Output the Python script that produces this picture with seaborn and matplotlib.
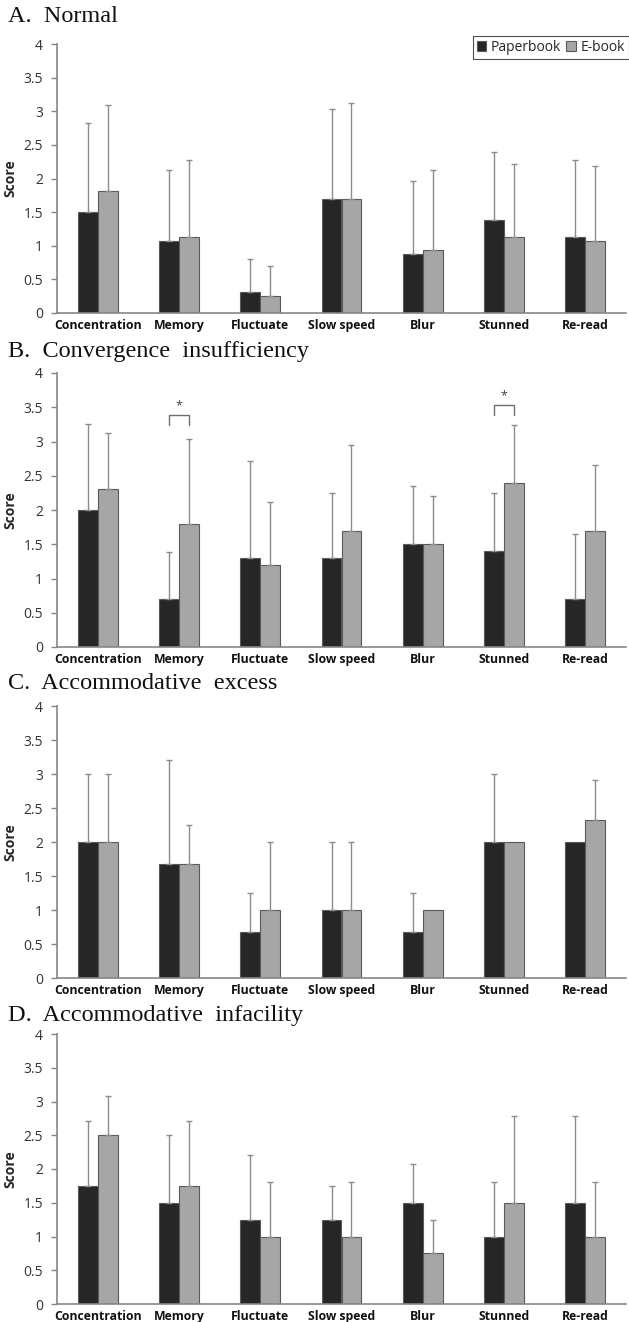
import numpy as np
import pandas as pd
import matplotlib
matplotlib.use("Agg")
import matplotlib.pyplot as plt
import seaborn as sns

# ==========================================
# DATA
# ==========================================
symptoms = ["Concentration", "Memory", "Fluctuate", "Slow speed", "Blur", "Stunned", "Re-read"]
groups = ["Paperbook", "E-book"]
panel_titles = ["A.  Normal", "B.  Convergence  insufficiency",
                "C.  Accommodative  excess", "D.  Accommodative  infacility"]

# mean scores
paper_mean = [
    [1.50, 1.07, 0.31, 1.69, 0.88, 1.38, 1.13],
    [2.00, 0.70, 1.30, 1.30, 1.50, 1.40, 0.70],
    [2.00, 1.67, 0.67, 1.00, 0.67, 2.00, 2.00],
    [1.75, 1.50, 1.25, 1.25, 1.50, 1.00, 1.50],
]
ebook_mean = [
    [1.81, 1.13, 0.25, 1.69, 0.94, 1.13, 1.07],
    [2.30, 1.80, 1.20, 1.70, 1.50, 2.40, 1.70],
    [2.00, 1.67, 1.00, 1.00, 1.00, 2.00, 2.33],
    [2.50, 1.75, 1.00, 1.00, 0.75, 1.50, 1.00],
]
# standard deviations (upper error bars)
paper_sd = [
    [1.32, 1.06, 0.49, 1.35, 1.08, 1.02, 1.14],
    [1.25, 0.68, 1.42, 0.95, 0.85, 0.85, 0.95],
    [1.00, 1.53, 0.58, 1.00, 0.58, 1.00, 0.00],
    [0.96, 1.00, 0.96, 0.50, 0.57, 0.81, 1.29],
]
ebook_sd = [
    [1.28, 1.14, 0.45, 1.44, 1.18, 1.08, 1.12],
    [0.82, 1.23, 0.92, 1.25, 0.71, 0.84, 0.95],
    [1.00, 0.58, 1.00, 1.00, 0.00, 0.00, 0.58],
    [0.58, 0.96, 0.81, 0.81, 0.50, 1.29, 0.81],
]
# significance marks in panel B: (symptom, bracket low, bracket high)
sig_marks = [("Memory", 3.24, 3.385), ("Stunned", 3.385, 3.537)]

# ==========================================
# STYLE
# ==========================================
sns.set_theme(style="white")
plt.rcParams["font.family"] = ["Open Sans", "DejaVu Sans"]

PAPER_COLOR = "#262626"
EBOOK_COLOR = "#a6a6a6"
EDGE_COLOR = "#5a5a5a"
AXIS_COLOR = "#868686"
ERR_COLOR = "#8c8c8c"

W, H = 629, 1322
fig = plt.figure(figsize=(W / 100, H / 100), dpi=100)

# axes boxes in pixels: (top y of value 4, y of value 0)
axes_px = [(44, 313), (373, 647), (706, 978), (1034, 1304)]
title_y = [17, 352, 683, 1016]
x0, x1 = 57, 626

for i in range(4):
    ytop, ybot = axes_px[i]
    ax = fig.add_axes([x0 / W, 1 - ybot / H, (x1 - x0) / W, (ybot - ytop) / H])

    df = pd.DataFrame({
        "Symptom": symptoms * 2,
        "Book": [groups[0]] * 7 + [groups[1]] * 7,
        "Score": paper_mean[i] + ebook_mean[i],
    })
    sns.barplot(data=df, x="Symptom", y="Score", hue="Book", order=symptoms,
                hue_order=groups, palette=[PAPER_COLOR, EBOOK_COLOR],
                width=0.49, gap=0, errorbar=None, edgecolor=EDGE_COLOR,
                linewidth=0.8, saturation=1, ax=ax, legend=(i == 0))

    # upper-only error bars
    centers = []
    for cont, means, sds in zip(ax.containers, [paper_mean[i], ebook_mean[i]],
                                [paper_sd[i], ebook_sd[i]]):
        xs = np.array([p.get_x() + p.get_width() / 2 for p in cont.patches])
        centers.append(xs)
        sd = np.array(sds)
        mask = sd > 0
        ax.errorbar(xs[mask], np.array(means)[mask],
                    yerr=[np.zeros(mask.sum()), sd[mask]], fmt="none",
                    ecolor=ERR_COLOR, elinewidth=1.0, capsize=2.2, capthick=1.0,
                    zorder=1)

    if i == 1:
        for name, lo, hi in sig_marks:
            k = symptoms.index(name)
            xa, xb = centers[0][k], centers[1][k]
            ax.plot([xa, xa, xb, xb], [lo, hi, hi, lo], color="#707070", lw=1.0,
                    clip_on=False)
            ax.text((xa + xb) / 2, hi + 0.04, "*", ha="center", va="bottom",
                    fontsize=9, color="#404040")

    ax.set_xlim(-0.5, 6.5)
    ax.set_ylim(0, 4)
    yt = np.arange(0, 4.01, 0.5)
    ax.set_yticks(yt)
    ax.set_yticklabels([f"{v:g}" for v in yt], fontsize=10, color="#333333")
    ax.set_xticks(range(7))
    ax.set_xticklabels(symptoms, fontsize=8.8, fontweight="bold", color="#111111")
    ax.tick_params(axis="x", length=0, pad=4)
    ax.tick_params(axis="y", length=4, width=1, color=AXIS_COLOR, pad=6, left=True)
    ax.set_xlabel("")
    ax.set_ylabel("Score", fontsize=10, fontweight="bold")
    ax.yaxis.set_label_coords((17 - x0) / (x1 - x0), 0.5)
    sns.despine(ax=ax)
    for s in ["left", "bottom"]:
        ax.spines[s].set_color(AXIS_COLOR)
        ax.spines[s].set_linewidth(1.2)

    if i == 0:
        leg = ax.legend(loc="upper right", bbox_to_anchor=(1.005, 1.03), ncol=2,
                        frameon=True, fancybox=False, fontsize=10,
                        handlelength=0.7, handleheight=0.7, handletextpad=0.3,
                        columnspacing=0.4, borderpad=0.3, borderaxespad=0)
        leg.get_frame().set_edgecolor("#222222")
        leg.get_frame().set_linewidth(0.8)

    fig.text(8 / W, 1 - title_y[i] / H, panel_titles[i], ha="left", va="center",
             fontsize=17.5, family="Liberation Serif", color="#111111")

fig.savefig("out.png", dpi=100)
